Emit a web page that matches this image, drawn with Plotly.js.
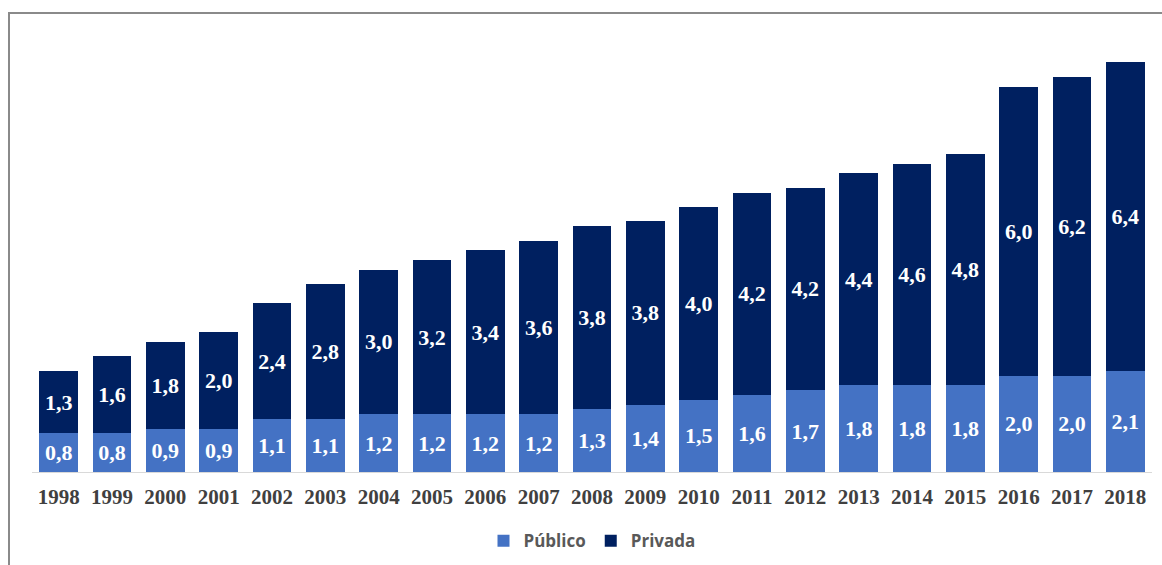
<!DOCTYPE html>
<html>
<head>
<meta charset="utf-8">
<script src="https://cdn.plot.ly/plotly-3.0.1.min.js"></script>
<style>
  html, body { margin: 0; padding: 0; background: #ffffff; }
  #chart { position: absolute; left: 0; top: 0; width: 1162px; height: 565px; }
  #frame { position: absolute; left: 8px; top: 12px; width: 1154px; height: 553px;
           border-top: 2px solid #8a8a8a; border-left: 2px solid #8a8a8a; pointer-events: none; }
</style>
</head>
<body>
<div id="chart"></div>
<div id="frame"></div>
<script>
const years = ['1998','1999','2000','2001','2002','2003','2004','2005','2006','2007','2008',
               '2009','2010','2011','2012','2013','2014','2015','2016','2017','2018'];
const publico = [0.8,0.8,0.9,0.9,1.1,1.1,1.2,1.2,1.2,1.2,1.3,1.4,1.5,1.6,1.7,1.8,1.8,1.8,2.0,2.0,2.1];
const privada = [1.3,1.6,1.8,2.0,2.4,2.8,3.0,3.2,3.4,3.6,3.8,3.8,4.0,4.2,4.2,4.4,4.6,4.8,6.0,6.2,6.4];
const seriesNames = ['Público', 'Privada'];

const serif = '"Liberation Serif", "Times New Roman", serif';
const labelFont = { family: serif, size: 22, color: '#ffffff', weight: 'bold' };

const traces = [
  {
    type: 'bar', name: seriesNames[0], x: years, y: publico,
    marker: { color: '#4472C4' },
    texttemplate: '%{y:.1f}', textposition: 'inside', insidetextanchor: 'middle',
    textangle: 0, textfont: labelFont, constraintext: 'none', hoverinfo: 'x+y'
  },
  {
    type: 'bar', name: seriesNames[1], x: years, y: privada,
    marker: { color: '#002060' },
    texttemplate: '%{y:.1f}', textposition: 'inside', insidetextanchor: 'middle',
    textangle: 0, textfont: labelFont, constraintext: 'none', hoverinfo: 'x+y'
  }
];

const layout = {
  width: 1162, height: 565,
  margin: { l: 32, r: 10, t: 20, b: 93, autoexpand: false },
  barmode: 'stack',
  bargap: 0.27,
  separators: ',.',
  paper_bgcolor: '#ffffff',
  plot_bgcolor: '#ffffff',
  showlegend: true,
  legend: {
    orientation: 'h', x: 0.5, xanchor: 'center', y: -0.153, yanchor: 'middle',
    traceorder: 'normal',
    font: { family: '"Open Sans", "Liberation Sans", sans-serif', size: 17, color: '#595959', weight: 'bold' },
    itemwidth: 30
  },
  xaxis: {
    type: 'category',
    showline: true, linecolor: '#d9d9d9', linewidth: 1,
    ticks: '', showgrid: false, zeroline: false,
    tickfont: { family: serif, size: 21, color: '#404040', weight: 'bold' },
    ticklabelstandoff: 6
  },
  yaxis: {
    range: [0, 9.38], visible: false, showgrid: false, zeroline: false
  }
};

Plotly.newPlot('chart', traces, layout, { displayModeBar: false, staticPlot: true });
</script>
</body>
</html>
